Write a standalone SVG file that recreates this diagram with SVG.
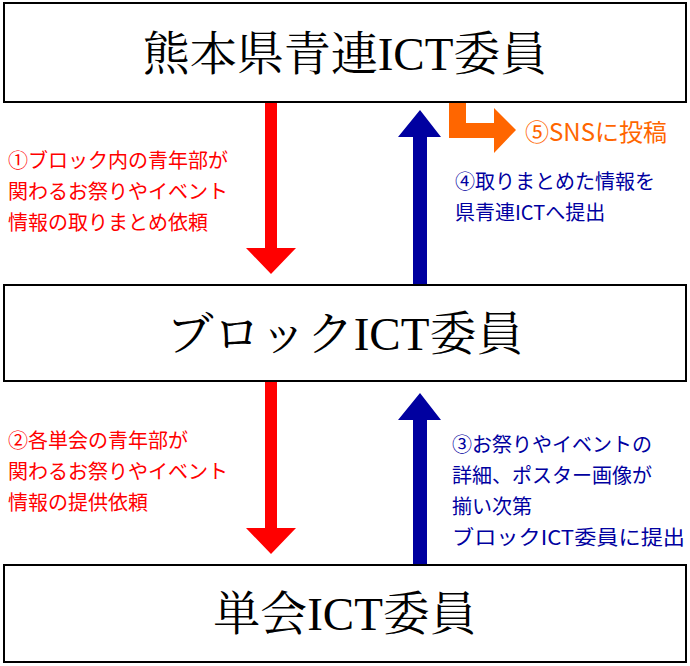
<svg xmlns="http://www.w3.org/2000/svg" width="690" height="666" viewBox="0 0 690 666">
<style>
.box{fill:#fff;stroke:#000;stroke-width:2}
.t{font-family:"Liberation Serif","Noto Serif CJK JP","Noto Sans CJK JP",serif;font-size:47px;fill:#000;text-anchor:middle}
.l{font-family:"Noto Sans CJK JP",sans-serif;font-size:20px}
.r{fill:#ff0000}.b{fill:#0000a0}.o{fill:#ff6600}
</style>
<rect width="690" height="666" fill="#fff"/>
<g id="n1"><rect class="box" x="4" y="3" width="682" height="99"/><text class="t" x="345" y="70">熊本県青連ICT委員</text></g>
<g id="n2"><rect class="box" x="4" y="285" width="682" height="96"/><text class="t" x="345" y="350">ブロックICT委員</text></g>
<g id="n3"><rect class="box" x="4" y="565" width="682" height="97"/><text class="t" x="345" y="630">単会ICT委員</text></g>
<g id="connectors">
<polygon class="r" points="265,103 277,103 277,248 296,248 271,274 246,248 265,248"/>
<polygon class="b" points="413,284 427,284 427,137 441,137 420,110 398,137 413,137"/>
<polygon class="r" points="265,382 277,382 277,528 296,528 271,554 246,528 265,528"/>
<polygon class="b" points="413,564 427,564 427,420 441,420 420,393 398,420 413,420"/>
<polygon class="o" points="449,103 466,103 466,123 494,123 494,108 516,130 494,153 494,138 449,138"/>
</g>
<g class="l">
<text class="r" x="8" y="168">①ブロック内の青年部が</text>
<text class="r" x="8" y="199">関わるお祭りやイベント</text>
<text class="r" x="8" y="230">情報の取りまとめ依頼</text>
<text class="b" x="455" y="189">④取りまとめた情報を</text>
<text class="b" x="455" y="220">県青連ICTへ提出</text>
<text class="o" x="525" y="141" style="font-size:24px">⑤SNSに投稿</text>
<text class="r" x="8" y="448">②各単会の青年部が</text>
<text class="r" x="8" y="479">関わるお祭りやイベント</text>
<text class="r" x="8" y="510">情報の提供依頼</text>
<text class="b" x="452" y="452">③お祭りやイベントの</text>
<text class="b" x="452" y="483">詳細、ポスター画像が</text>
<text class="b" x="452" y="514">揃い次第</text>
<text class="b" x="452" y="545" textLength="233" lengthAdjust="spacingAndGlyphs">ブロックICT委員に提出</text>
</g>
</svg>
